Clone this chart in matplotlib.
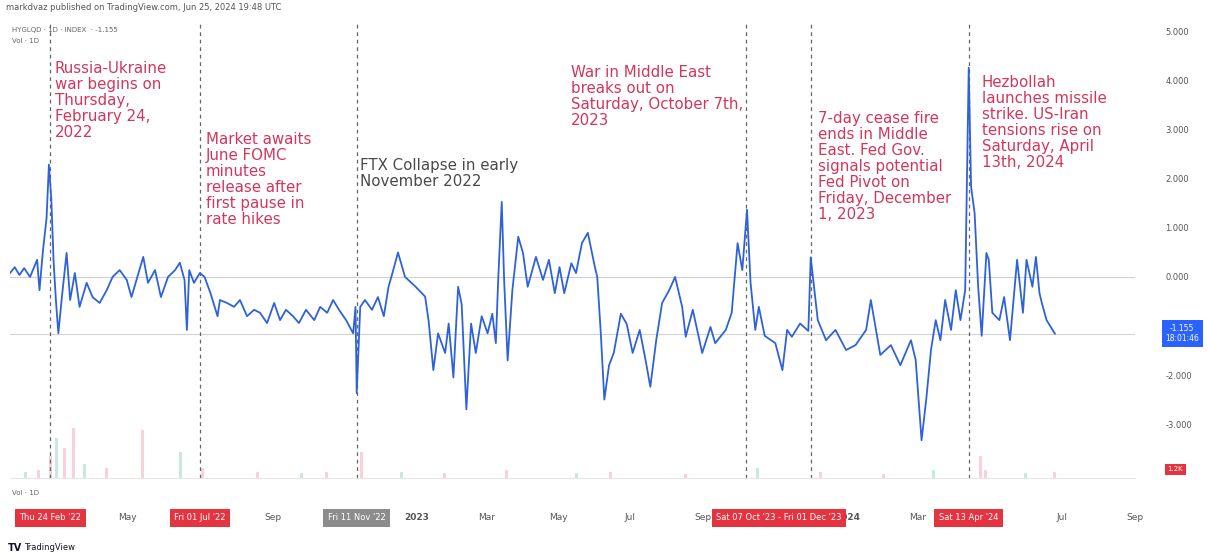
import matplotlib
matplotlib.use('Agg')
import matplotlib.pyplot as plt
import matplotlib.transforms as mtransforms
import pandas as pd

# daily-ish readings of the line
dates = [
    '2022-01-21', '2022-01-25', '2022-01-29', '2022-02-02', '2022-02-07', '2022-02-13', '2022-02-15',
    '2022-02-18', '2022-02-21', '2022-02-23', '2022-02-25', '2022-02-27', '2022-03-01', '2022-03-03',
    '2022-03-06', '2022-03-10', '2022-03-13', '2022-03-17', '2022-03-21', '2022-03-27', '2022-04-01',
    '2022-04-07', '2022-04-13', '2022-04-18', '2022-04-24', '2022-04-30', '2022-05-04', '2022-05-10',
    '2022-05-14', '2022-05-18', '2022-05-24', '2022-05-29', '2022-06-04', '2022-06-10', '2022-06-14',
    '2022-06-18', '2022-06-20', '2022-06-22', '2022-06-26', '2022-07-01', '2022-07-05', '2022-07-10',
    '2022-07-16', '2022-07-18', '2022-07-24', '2022-07-30', '2022-08-04', '2022-08-10', '2022-08-16',
    '2022-08-21', '2022-08-27', '2022-09-02', '2022-09-07', '2022-09-12', '2022-09-18', '2022-09-23',
    '2022-09-29', '2022-10-06', '2022-10-11', '2022-10-17', '2022-10-22', '2022-10-27', '2022-11-02',
    '2022-11-08', '2022-11-10', '2022-11-11', '2022-11-14', '2022-11-18', '2022-11-24', '2022-11-29',
    '2022-12-04', '2022-12-08', '2022-12-12', '2022-12-16', '2022-12-22', '2022-12-31', '2023-01-08',
    '2023-01-11', '2023-01-15', '2023-01-19', '2023-01-25', '2023-01-28', '2023-02-01', '2023-02-05',
    '2023-02-08', '2023-02-12', '2023-02-16', '2023-02-20', '2023-02-25', '2023-03-02', '2023-03-06',
    '2023-03-09', '2023-03-11', '2023-03-14', '2023-03-16', '2023-03-19', '2023-03-23', '2023-03-28',
    '2023-04-01', '2023-04-05', '2023-04-12', '2023-04-18', '2023-04-23', '2023-04-28', '2023-05-02',
    '2023-05-06', '2023-05-12', '2023-05-16', '2023-05-21', '2023-05-26', '2023-06-01', '2023-06-03',
    '2023-06-06', '2023-06-09', '2023-06-13', '2023-06-17', '2023-06-23', '2023-06-28', '2023-07-03',
    '2023-07-09', '2023-07-14', '2023-07-18', '2023-07-23', '2023-07-28', '2023-08-03', '2023-08-08',
    '2023-08-14', '2023-08-17', '2023-08-23', '2023-08-31', '2023-09-07', '2023-09-11', '2023-09-20',
    '2023-09-25', '2023-09-30', '2023-10-04', '2023-10-08', '2023-10-11', '2023-10-15', '2023-10-18',
    '2023-10-23', '2023-11-01', '2023-11-07', '2023-11-11', '2023-11-15', '2023-11-22', '2023-11-29',
    '2023-12-01', '2023-12-07', '2023-12-14', '2023-12-22', '2023-12-31', '2024-01-08', '2024-01-17',
    '2024-01-21', '2024-01-29', '2024-02-07', '2024-02-15', '2024-02-24', '2024-02-28', '2024-03-04',
    '2024-03-08', '2024-03-12', '2024-03-16', '2024-03-20', '2024-03-24', '2024-03-29', '2024-04-02',
    '2024-04-06', '2024-04-10', '2024-04-13', '2024-04-15', '2024-04-18', '2024-04-21', '2024-04-24',
    '2024-04-28', '2024-04-30', '2024-05-03', '2024-05-09', '2024-05-13', '2024-05-18', '2024-05-22',
    '2024-05-24', '2024-05-29', '2024-06-01', '2024-06-06', '2024-06-09', '2024-06-12', '2024-06-14',
    '2024-06-18', '2024-06-25',
]
values = [
    0.08, 0.20, 0.04, 0.18, 0.00, 0.35, -0.27,
    0.55, 1.20, 2.29, 1.60, 0.30, -0.50, -1.15,
    -0.41, 0.49, -0.47, 0.08, -0.61, -0.12, -0.41,
    -0.53, -0.27, 0.00, 0.14, -0.06, -0.41, 0.08,
    0.41, -0.12, 0.14, -0.41, 0.00, 0.14, 0.29,
    -0.06, -1.08, 0.14, -0.12, 0.08, 0.00, -0.33,
    -0.80, -0.47, -0.53, -0.61, -0.47, -0.80, -0.67,
    -0.73, -0.94, -0.53, -0.88, -0.67, -0.80, -0.94,
    -0.67, -0.88, -0.61, -0.73, -0.47, -0.67, -0.88,
    -1.15, -0.61, -2.37, -0.61, -0.47, -0.67, -0.41,
    -0.80, -0.20, 0.14, 0.50, 0.00, -0.20, -0.40,
    -0.90, -1.90, -1.15, -1.55, -0.95, -2.05, -0.20,
    -0.55, -2.70, -0.95, -1.55, -0.80, -1.15, -0.75,
    -1.35, -0.05, 1.53, -0.05, -1.70, -0.27, 0.82,
    0.49, -0.20, 0.41, -0.06, 0.35, -0.33, 0.20,
    -0.33, 0.28, 0.08, 0.69, 0.90, 0.20, 0.00,
    -1.15, -2.50, -1.80, -1.55, -0.75, -0.96, -1.55,
    -1.08, -1.70, -2.24, -1.29, -0.53, -0.27, 0.00,
    -0.61, -1.22, -0.67, -1.55, -1.02, -1.35, -1.08,
    -0.73, 0.69, 0.14, 1.37, -0.12, -1.08, -0.61,
    -1.20, -1.35, -1.90, -1.08, -1.22, -0.95, -1.10,
    0.40, -0.88, -1.29, -1.08, -1.49, -1.39, -1.08,
    -0.47, -1.59, -1.39, -1.80, -1.29, -1.69, -3.33,
    -2.49, -1.49, -0.88, -1.29, -0.47, -1.08, -0.27,
    -0.88, -0.27, 4.27, 1.84, 1.30, -0.20, -1.20,
    0.49, 0.35, -0.73, -0.88, -0.41, -1.29, -0.20,
    0.35, -0.73, 0.35, -0.20, 0.41, -0.33, -0.53,
    -0.88, -1.155,
]

vol_dates = ['2022-02-03', '2022-02-14', '2022-02-24', '2022-03-01', '2022-03-08', '2022-03-15',
             '2022-03-24', '2022-04-12', '2022-05-12', '2022-06-13', '2022-07-01', '2022-08-16',
             '2022-09-22', '2022-10-13', '2022-11-11', '2022-12-15', '2023-01-20', '2023-03-13',
             '2023-05-10', '2023-06-08', '2023-08-10', '2023-10-09', '2023-12-01', '2024-01-22',
             '2024-03-04', '2024-04-13', '2024-04-17', '2024-05-20', '2024-06-14']
vol_values = [6, 8, 22, 40, 30, 50, 14, 10, 48, 26, 10, 6, 5, 6, 26, 6, 5, 8, 5, 6, 4, 10, 6, 4,
              8, 22, 8, 5, 6]

event_dates = ['2022-02-24', '2022-07-01', '2022-11-11', '2023-10-07', '2023-12-01', '2024-04-13']

notes = [
    'Russia-Ukraine\nwar begins on\nThursday,\nFebruary 24,\n2022',
    'Market awaits\nJune FOMC\nminutes\nrelease after\nfirst pause in\nrate hikes',
    'FTX Collapse in early\nNovember 2022',
    'War in Middle East\nbreaks out on\nSaturday, October 7th,\n2023',
    '7-day cease fire\nends in Middle\nEast. Fed Gov.\nsignals potential\nFed Pivot on\nFriday, December\n1, 2023',
    'Hezbollah\nlaunches missile\nstrike. US-Iran\ntensions rise on\nSaturday, April\n13th, 2024',
]
note_dates = ['2022-02-28', '2022-07-06', '2022-11-14', '2023-05-12', '2023-12-07', '2024-04-24']
note_tops = [4.40, 2.95, 2.42, 4.32, 3.38, 4.12]
note_colors = ['#d2365a', '#d2365a', '#4a4a4a', '#d2365a', '#d2365a', '#d2365a']

tick_dates = ['2022-05-01', '2022-09-01', '2023-01-01', '2023-03-01', '2023-05-01', '2023-07-01',
              '2023-09-01', '2024-01-01', '2024-03-01', '2024-07-01', '2024-09-01']
tick_labels = ['May', 'Sep', '2023', 'Mar', 'May', 'Jul', 'Sep', '2024', 'Mar', 'Jul', 'Sep']

box_labels = ["Thu 24 Feb '22", "Fri 01 Jul '22", "Fri 11 Nov '22",
              "Sat 07 Oct '23 - Fri 01 Dec '23", "Sat 13 Apr '24"]
box_dates = ['2022-02-24', '2022-07-01', '2022-11-11', '2023-11-04', '2024-04-13']
box_colors = ['#e5343f', '#e5343f', '#8c8c8c', '#e5343f', '#e5343f']

# -1.000 sits under the last-value label, so it is not shown
price_ticks = [5, 4, 3, 2, 1, 0, -2, -3]

fig = plt.figure(figsize=(12.1, 5.58), dpi=100)
rect = [10 / 1210, 1 - 478 / 558, 1125 / 1210, 456 / 558]
axv = fig.add_axes(rect)
ax = fig.add_axes(rect)
ax.patch.set_alpha(0)

xmin, xmax = pd.Timestamp('2022-01-21'), pd.Timestamp('2024-08-20')

# volume in the background
vcol = ['#f5b3c0' if i % 3 else '#a8d9d0' for i in range(len(vol_values))]
axv.bar(pd.to_datetime(vol_dates), vol_values, width=2.5, color=vcol, alpha=0.6)
axv.set_xlim(xmin, xmax)
axv.set_ylim(0, 456)
axv.axis('off')

x = pd.to_datetime(dates)
ax.plot(x, values, color='#2f62d8', lw=1.3, zorder=4)
ax.axhline(0, color='#cfcfcf', lw=0.8, zorder=1)
ax.axhline(values[-1], color='#d4d4d4', lw=0.8, zorder=1)
for d in event_dates:
    ax.axvline(pd.Timestamp(d), color='#666666', lw=0.9, ls=(0, (3, 3)), zorder=2)

for txt, d, top, c in zip(notes, note_dates, note_tops, note_colors):
    ax.text(pd.Timestamp(d), top, txt, color=c, fontsize=10.8, va='top', ha='left',
            linespacing=1.08, zorder=5)

ax.set_xlim(xmin, xmax)
ax.set_ylim(-4.10, 5.20)

ax.set_xticks(pd.to_datetime(tick_dates))
ax.set_xticklabels(tick_labels)
for lab in ax.get_xticklabels():
    if lab.get_text() in ('2023', '2024'):
        lab.set_fontweight('bold')
        lab.set_color('#333333')
ax.tick_params(axis='x', length=0, pad=25, labelsize=6.5, colors='#555555')

ax.yaxis.tick_right()
ax.set_yticks(price_ticks)
ax.set_yticklabels([f'{v:.3f}' for v in price_ticks])
ax.tick_params(axis='y', length=0, pad=22, labelsize=6, colors='#555555')

for s in ax.spines.values():
    s.set_visible(False)
ax.spines['bottom'].set_visible(True)
ax.spines['bottom'].set_color('#e6e6e6')

# date boxes on the time scale
trans = mtransforms.blended_transform_factory(ax.transData, ax.transAxes)
for lab, d, c in zip(box_labels, box_dates, box_colors):
    ax.text(pd.Timestamp(d), -0.0877, lab, transform=trans, ha='center', va='center',
            fontsize=6, color='white', clip_on=False, zorder=10,
            bbox=dict(boxstyle='square,pad=0.55', fc=c, ec='none'))

# last value label on the price scale
trans2 = mtransforms.blended_transform_factory(ax.transAxes, ax.transData)
ax.text(1.042, values[-1], f'{values[-1]:.3f}\n18:01:46', transform=trans2, ha='center',
        va='center', fontsize=5.5, color='white', linespacing=1.2, clip_on=False, zorder=10,
        bbox=dict(boxstyle='square,pad=0.45', fc='#2962ff', ec='none'))
ax.text(1.036, 0.019, '1.2K', transform=ax.transAxes, ha='center', va='center',
        fontsize=5, color='white', clip_on=False, zorder=10,
        bbox=dict(boxstyle='square,pad=0.4', fc='#e5343f', ec='none'))

fig.text(6 / 1210, 1 - 8 / 558, 'markdvaz published on TradingView.com, Jun 25, 2024 19:48 UTC',
         fontsize=6, color='#555555', va='center')
fig.text(12 / 1210, 1 - 30 / 558, 'HYGLQD · 1D · INDEX  · -1.155', fontsize=5,
         color='#666666', va='center')
fig.text(12 / 1210, 1 - 41 / 558, 'Vol · 1D', fontsize=5, color='#666666', va='center')
fig.text(12 / 1210, 1 - 493 / 558, 'Vol · 1D', fontsize=5, color='#666666', va='center')
fig.text(8 / 1210, 1 - 548 / 558, 'TV', fontsize=7, fontweight='bold', color='#131722',
         va='center')
fig.text(24 / 1210, 1 - 548 / 558, 'TradingView', fontsize=6, color='#131722', va='center')

fig.savefig('out.png', dpi=100, facecolor='white')
